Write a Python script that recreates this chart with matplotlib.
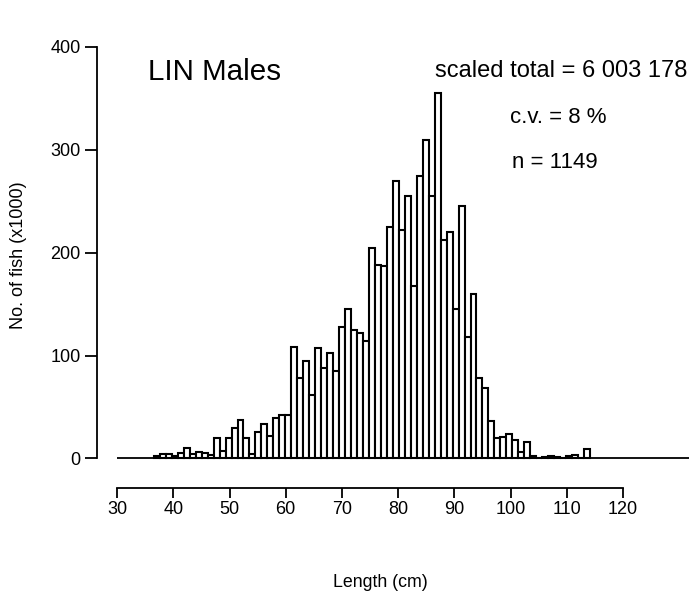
import matplotlib.pyplot as plt
import numpy as np

plt.rcParams['font.family'] = ['Liberation Sans', 'DejaVu Sans']

# length classes (cm) and numbers of fish (x1000)
lengths = np.arange(38, 111)
counts = [2, 4, 4, 2, 5, 10, 4, 6, 5, 3,
          20, 7, 20, 30, 37, 20, 4, 26, 33, 22, 39, 42, 42,
          108, 78, 95, 62, 107, 88, 102, 85, 128, 145, 125, 122, 114,
          205, 188, 187, 225, 270, 222, 255, 168, 275, 310, 255, 355,
          212, 220, 145, 245, 118, 160, 78, 68, 36, 20, 21, 24, 18,
          6, 16, 2, 0, 1, 2, 1, 0, 2, 3, 0, 9]

xticks = np.arange(30, 121, 10)
yticks = np.arange(0, 401, 100)

# bars are one class wide; the length axis was drawn on its own scale
# (barplot + separate axis), about 0.94 bar widths per cm
tick_pos = 31.35 + (xticks - 30) * 0.9406

fig = plt.figure(figsize=(6.99, 5.94), dpi=100)
ax = fig.add_axes([0.139, 0.178, 0.848, 0.743])

ax.bar(lengths, counts, width=1.0, color='white', edgecolor='black', linewidth=1.5)
ax.hlines(0, tick_pos[0], 127.0, color='black', lw=1.3)

ax.set_xlim(28.01, 127.22)
ax.set_ylim(-29, 400)

for s in ['top', 'right']:
    ax.spines[s].set_visible(False)
ax.spines['left'].set_bounds(0, 400)
ax.spines['bottom'].set_bounds(tick_pos[0], tick_pos[-1])
ax.spines['left'].set_linewidth(1.3)
ax.spines['bottom'].set_linewidth(1.3)

ax.set_xticks(tick_pos)
ax.set_xticklabels([str(t) for t in xticks])
ax.set_yticks(yticks)
ax.tick_params(axis='both', direction='out', width=1.3, labelsize=13)
ax.tick_params(axis='y', length=9, pad=3)
ax.tick_params(axis='x', length=7, pad=2)

fig.text(0.212, 0.878, 'LIN Males', fontsize=21.3, va='center', ha='left')
fig.text(0.622, 0.881, 'scaled total = 6 003 178', fontsize=17, va='center', ha='left')
fig.text(0.73, 0.803, 'c.v. = 8 %', fontsize=16, va='center', ha='left')
fig.text(0.733, 0.727, 'n = 1149', fontsize=16, va='center', ha='left')

fig.text(0.026, 0.57, 'No. of fish (x1000)', rotation=90, fontsize=13, va='center', ha='center')
fig.text(0.544, 0.02, 'Length (cm)', fontsize=12.8, va='center', ha='center')

fig.savefig('out.png', dpi=100)
